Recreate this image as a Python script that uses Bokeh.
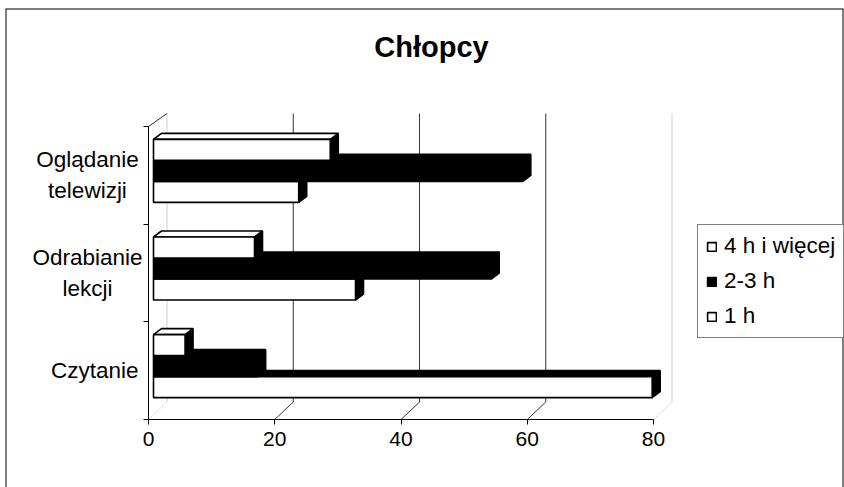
from bokeh.plotting import figure
from bokeh.models import Range1d, LinearAxis, FixedTicker, Label, Legend, LegendItem, Span
from bokeh.embed import file_html
from bokeh.resources import INLINE

# ---------------- data ----------------
TITLE = "Chłopcy"
categories = ["Czytanie", "Odrabianie\nlekcji", "Oglądanie\ntelewizji"]  # bottom -> top
series_names = ["1 h", "2-3 h", "4 h i więcej"]
values_1h = [79, 32, 23]
values_2_3h = [16.5, 53.5, 58.5]
values_4h = [5, 16, 28]
x_ticks = [0, 20, 40, 60, 80]

# ---------------- layout / style ----------------
W, H = 844, 487
FRAME_L, FRAME_T, FRAME_R, FRAME_B = 5, 8, 843, 487
X0_PX, X80_PX = 148, 653          # front axis: 0 and max tick
Y0_PX, YTOP_PX = 419, 126         # front axis: bottom and top
FONT = "Liberation Sans"

n = len(categories)
xmax = x_ticks[-1]
PX_X = (X80_PX - X0_PX) / xmax
PX_Y = (Y0_PX - YTOP_PX) / n

x_range = Range1d((FRAME_L - X0_PX) / PX_X, (FRAME_R - X0_PX) / PX_X)
y_range = Range1d((Y0_PX - FRAME_B) / PX_Y, (Y0_PX - FRAME_T) / PX_Y)

p = figure(width=W, height=H, x_range=x_range, y_range=y_range,
           x_axis_type=None, y_axis_type=None, toolbar_location=None,
           output_backend="svg",
           min_border_left=FRAME_L, min_border_top=FRAME_T,
           min_border_right=W - FRAME_R, min_border_bottom=H - FRAME_B)
p.outline_line_color = None
p.background_fill_color = "white"
p.border_fill_color = "white"

# chart border (left, top, right)
for loc, dim in [(x_range.start, "height"), (x_range.end, "height"), (y_range.end, "width")]:
    p.add_layout(Span(location=loc, dimension=dim, line_color="black", line_width=2))

# depth offsets (back wall) in data units
dxb = 18.5 / PX_X
dyb = 17.5 / PX_Y
dyt = 13 / PX_Y
DARK = "#333333"
LIGHT = "#cfcfcf"

inner = x_ticks[1:-1]
edges = [x_ticks[0], x_ticks[-1]]
# back wall gridlines
p.segment(x0=[t + dxb for t in inner], y0=[dyb] * len(inner),
          x1=[t + dxb for t in inner], y1=[n + dyt] * len(inner),
          line_color=DARK, line_width=1)
p.segment(x0=[t + dxb for t in edges], y0=[dyb] * 2,
          x1=[t + dxb for t in edges], y1=[n + dyt] * 2,
          line_color=LIGHT, line_width=1)
# floor diagonals
p.segment(x0=inner, y0=[0] * len(inner), x1=[t + dxb for t in inner],
          y1=[dyb] * len(inner), line_color=DARK, line_width=1)
p.segment(x0=edges, y0=[0] * 2, x1=[t + dxb for t in edges], y1=[dyb] * 2,
          line_color=LIGHT, line_width=1, line_dash="2 1")
# left wall top edge
p.segment(x0=[0], y0=[n], x1=[dxb], y1=[n + dyt], line_color=DARK, line_width=1)

# ---------------- 3D bars ----------------
bx = 5 / PX_X          # bar plane shift
by = 4.5 / PX_Y
ex = 8 / PX_X          # bar extrusion
ey = 6 / PX_Y
bh = 21 / PX_Y         # bar thickness

series_values = [values_1h, values_2_3h, values_4h]
front_colors = ["white", "black", "white"]
top_colors = ["black", "black", "white"]
offsets = [-1, 0, 1]
LW = 1.6

renderers = []
for vals, fc, tc, off in zip(series_values, front_colors, top_colors, offsets):
    yc = [i + 0.5 + by + off * bh for i in range(n)]
    L = bx
    side_xs, side_ys, top_xs, top_ys = [], [], [], []
    for v, c in zip(vals, yc):
        R = bx + v
        B, T = c - bh / 2, c + bh / 2
        side_xs.append([R, R + ex, R + ex, R])
        side_ys.append([B, B + ey, T + ey, T])
        top_xs.append([L, L + ex, R + ex, R])
        top_ys.append([T, T + ey, T + ey, T])
    p.patches(side_xs, side_ys, fill_color="black", line_color="black", line_width=LW)
    p.patches(top_xs, top_ys, fill_color=tc, line_color="black", line_width=LW)
    r = p.hbar(y=yc, left=[bx] * n, right=[bx + v for v in vals], height=bh,
               fill_color=fc, line_color="black", line_width=LW)
    renderers.append(r)

# ---------------- axes ----------------
xaxis = LinearAxis(fixed_location=0, bounds=(0, xmax),
                   ticker=FixedTicker(ticks=x_ticks),
                   major_tick_out=5, major_tick_in=0,
                   minor_tick_out=0, minor_tick_in=0,
                   axis_line_color="black", major_tick_line_color="black",
                   major_label_text_font=FONT, major_label_text_font_size="21px",
                   major_label_text_color="black", major_label_standoff=7)
p.add_layout(xaxis, "below")

yaxis = LinearAxis(fixed_location=0, bounds=(0, n),
                   ticker=FixedTicker(ticks=list(range(n + 1))),
                   major_tick_out=5, major_tick_in=0,
                   minor_tick_out=0, minor_tick_in=0,
                   axis_line_color="black", major_tick_line_color="black",
                   major_label_overrides={i: "" for i in range(n + 1)})
p.add_layout(yaxis, "left")

for i, cat in enumerate(categories):
    multi = "\n" in cat
    p.add_layout(Label(x=0, y=i + 0.5, x_offset=-61 if multi else -10,
                       text=cat, text_align="center" if multi else "right",
                       text_baseline="middle", text_font=FONT,
                       text_font_size="22.5px", text_line_height=1.25,
                       text_color="black"))

# ---------------- title ----------------
p.add_layout(Label(x=(x_range.start + x_range.end) / 2, y=y_range.end,
                   x_offset=7, y_offset=-38, text=TITLE,
                   text_align="center", text_baseline="middle",
                   text_font=FONT, text_font_style="bold",
                   text_font_size="29px", text_color="black"))

# ---------------- legend ----------------
items = [LegendItem(label=name, renderers=[r])
         for name, r in zip(series_names, renderers)][::-1]
legend = Legend(items=items, location=(697 - FRAME_L, FRAME_B - 338),
                glyph_width=11, glyph_height=11, label_standoff=7,
                label_height=26, spacing=9, padding=8, margin=0,
                label_text_font=FONT, label_text_font_size="22.5px",
                label_text_color="black",
                label_text_baseline="middle",
                border_line_color="black", border_line_width=1,
                background_fill_color="white", background_fill_alpha=1)
p.add_layout(legend)

open("out.html", "w").write(file_html(p, INLINE))
